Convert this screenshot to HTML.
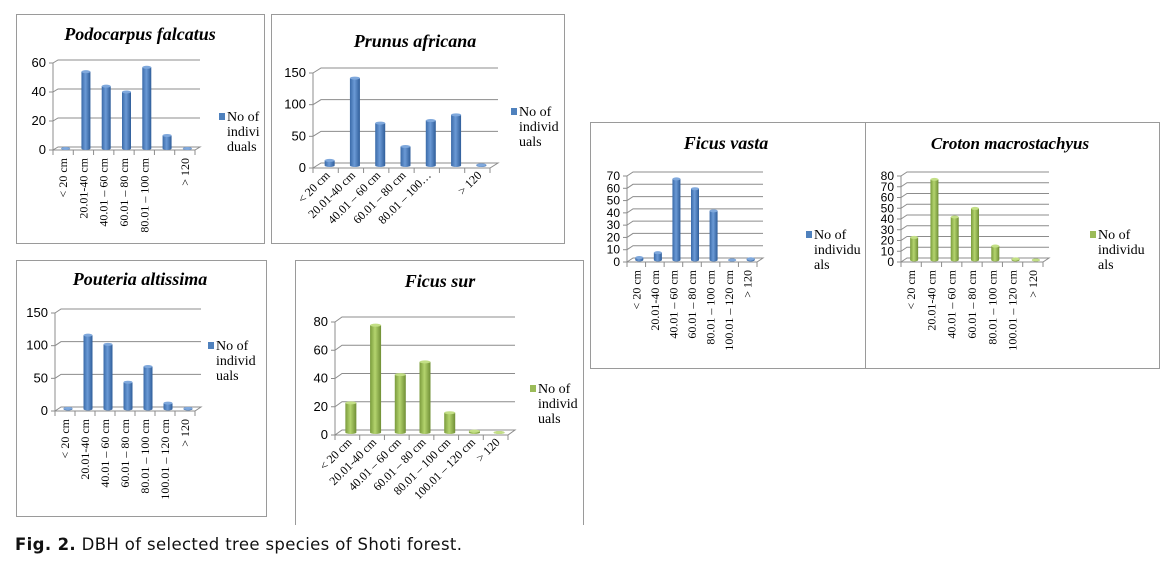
<!DOCTYPE html>
<html><head><meta charset="utf-8"><style>
html,body{margin:0;padding:0;background:#fff;width:1172px;height:572px;overflow:hidden}
svg{display:block}
</style></head><body>
<svg id="fig" width="1172" height="572" viewBox="0 0 1172 572" xmlns="http://www.w3.org/2000/svg">
<defs>
<linearGradient id="gBlue" x1="0" x2="1" y1="0" y2="0"><stop offset="0" stop-color="#3a6aa8"/><stop offset="0.45" stop-color="#6b9ad6"/><stop offset="1" stop-color="#2f5d99"/></linearGradient>
<linearGradient id="gGreen" x1="0" x2="1" y1="0" y2="0"><stop offset="0" stop-color="#7a9b3c"/><stop offset="0.45" stop-color="#b4d46e"/><stop offset="1" stop-color="#6f8e35"/></linearGradient>
</defs>
<g fill="none" stroke="#9a9a9a" stroke-width="1">
<rect x="16.5" y="14.5" width="248" height="229"/>
<rect x="271.5" y="14.5" width="293" height="229"/>
<rect x="16.5" y="260.5" width="250" height="256"/>
<path d="M295.5,525 V260.5 H583.5 V525"/>
<rect x="590.5" y="122.5" width="569" height="246"/>
<line x1="865.5" y1="122" x2="865.5" y2="368"/>
</g>
<text x="15" y="550" font-family="DejaVu Sans, sans-serif" font-size="16.5" fill="#111" textLength="447" lengthAdjust="spacing"><tspan font-weight="bold">Fig. 2.</tspan> DBH of selected tree species of Shoti forest.</text>
</svg>
<script>
const podoCats=["< 20 cm","20.01-40 cm","40.01 – 60 cm","60.01 – 80 cm","80.01 – 100 cm",""," > 120"];
const podoVals=[0,53,43,39,56,9,0];
const podoTicks=[0,20,40,60];
const prunCats=["< 20 cm","20.01-40 cm","40.01 – 60 cm","60.01 – 80 cm","80.01 – 100…","","> 120"];
const prunVals=[8,138,67,30,71,80,1];
const prunTicks=[0,50,100,150];
const poutCats=["< 20 cm","20.01-40 cm","40.01 – 60 cm","60.01 – 80 cm","80.01 – 100 cm","100.01 – 120 cm","> 120"];
const poutVals=[1,113,99,41,65,9,1];
const poutTicks=[0,50,100,150];
const surCats=["< 20 cm","20.01-40 cm","40.01 – 60 cm","60.01 – 80 cm","80.01 – 100 cm","100.01 – 120 cm","> 120"];
const surVals=[21,76,41,50,14,1,0];
const surTicks=[0,20,40,60,80];
const vastaCats=["< 20 cm","20.01-40 cm","40.01 – 60 cm","60.01 – 80 cm","80.01 – 100 cm","100.01 – 120 cm","> 120"];
const vastaVals=[2,6,66,58,40,0,1];
const vastaTicks=[0,10,20,30,40,50,60,70];
const crotCats=["< 20 cm","20.01-40 cm","40.01 – 60 cm","60.01 – 80 cm","80.01 – 100 cm","100.01 – 120 cm","> 120"];
const crotVals=[21,75,40,48,13,1,0];
const crotTicks=[0,10,20,30,40,50,60,70,80];

const NS="http://www.w3.org/2000/svg";
const svg=document.getElementById('fig');
function mk(tag,attrs,parent){const e=document.createElementNS(NS,tag);for(const k in attrs)e.setAttribute(k,attrs[k]);(parent||svg).appendChild(e);return e;}

function chart(id,title,cats,vals,ticks,c){
  const g=mk('g',{});
  
  
  const dx=c.dx||6,dy=c.dy||-4;
  const yMax=ticks[ticks.length-1];
  const yS=v=>c.y0-(v/yMax)*(c.y0-c.yTop);
  const n=cats.length, slot=(c.right-c.ax)/n;
  const t=mk('text',{x:c.tx,y:c.ty,'text-anchor':'middle','font-family':'Liberation Serif, serif','font-size':c.tfs||18,'font-weight':'bold','font-style':'italic',fill:'#000'},g);
  t.textContent=title;
  
  
  ticks.forEach(v=>{
    const y=yS(v);
    const gl=mk('path',{d:`M${c.ax},${y} L${c.ax+dx},${y+dy} L${c.right+dx},${y+dy}`+(v===0?` L${c.right},${y} Z`:''),fill:'none',stroke:'#8c8c8c','stroke-width':1},g);
    
    
    mk('line',{x1:c.ax-4,y1:y,x2:c.ax,y2:y,stroke:'#8c8c8c'},g);
    const tl=mk('text',{x:c.ax-7,y:y+4,'text-anchor':'end','font-family':'Liberation Sans, sans-serif','font-size':c.nfs||12,fill:'#000'},g);
    tl.textContent=v;
    
    
  });
  mk('line',{x1:c.ax,y1:c.y0,x2:c.ax,y2:yS(yMax),stroke:'#8c8c8c'},g);
  for(let i=0;i<=n;i++){const x=c.ax+i*slot;mk('line',{x1:x,y1:c.y0,x2:x,y2:c.y0+5,stroke:'#8c8c8c'},g);}
  const bw=c.bw||slot*0.5;
  vals.forEach((v,i)=>{
    const cx=c.ax+(i+0.5)*slot+dx/2, base=c.y0+dy/2, top=yS(v)+dy/2;
    const r=mk('rect',{x:cx-bw/2,y:top,width:bw,height:Math.max(0,base-top),fill:c.grad},g);
    
    
    mk('ellipse',{cx:cx,cy:base,rx:bw/2,ry:1.5,fill:c.grad},g);
    mk('ellipse',{cx:cx,cy:top,rx:bw/2,ry:1.5,fill:c.topc},g);
  });
  cats.forEach((lab,i)=>{
    if(!lab.trim())return;
    const cx=c.ax+(i+0.5)*slot, y=c.y0+8;
    const rot=c.rot;
    const xx=rot===-45?cx+5:cx+4;
    const tl=mk('text',{x:xx,y:y,'text-anchor':'end','font-family':'Liberation Serif, serif','font-size':c.lfs||12,fill:'#000',transform:`rotate(${rot} ${xx} ${y})`},g);
    tl.textContent=lab.trim();
    
    
  });
  const lg=mk('g',{},g);
  
  
  mk('rect',{x:c.lx,y:c.ly-8,width:6,height:7,fill:c.col},lg);
  c.lines.forEach((s,k)=>{const tt=mk('text',{x:c.lx+8,y:c.ly+k*15,'font-family':'Liberation Serif, serif','font-size':14,fill:'#000'},lg);tt.textContent=s;});
}

chart('podocarpus','Podocarpus falcatus',podoCats,podoVals,podoTicks,{ax:53,y0:150,yTop:63,right:195,dx:5,dy:-3,rot:-90,tx:140,ty:40,lx:219,ly:121,lines:['No of','indivi','duals'],grad:'url(#gBlue)',topc:'#7fa8dc',col:'#4f81bd',bw:9,nfs:13});
chart('prunus','Prunus africana',prunCats,prunVals,prunTicks,{ax:313,y0:168,yTop:73,right:490,dx:8,dy:-5,rot:-45,tx:415,ty:47,lx:511,ly:116,lines:['No of','individ','uals'],grad:'url(#gBlue)',topc:'#7fa8dc',col:'#4f81bd',bw:10,nfs:13});
chart('pouteria','Pouteria altissima',poutCats,poutVals,poutTicks,{ax:55,y0:411,yTop:313,right:195,dx:6,dy:-4,rot:-90,tx:140,ty:285,lx:208,ly:350,lines:['No of','individ','uals'],grad:'url(#gBlue)',topc:'#7fa8dc',col:'#4f81bd',bw:9,nfs:13});
chart('ficus-sur','Ficus sur',surCats,surVals,surTicks,{ax:335,y0:435,yTop:322,right:508,dx:7,dy:-5,rot:-45,tx:440,ty:287,lx:530,ly:393,lines:['No of','individ','uals'],grad:'url(#gGreen)',topc:'#c3df86',col:'#9bbb59',bw:11,nfs:13});
chart('ficus-vasta','Ficus vasta',vastaCats,vastaVals,vastaTicks,{ax:627,y0:262,yTop:176,right:757,dx:6,dy:-4,rot:-90,tx:726,ty:149,lx:806,ly:239,lines:['No of','individu','als'],grad:'url(#gBlue)',topc:'#7fa8dc',col:'#4f81bd',bw:8,nfs:12});
chart('croton','Croton macrostachyus',crotCats,crotVals,crotTicks,{ax:901,y0:262,yTop:176,right:1043,dx:6,dy:-4,rot:-90,tx:1010,ty:149,tfs:17,lx:1090,ly:239,lines:['No of','individu','als'],grad:'url(#gGreen)',topc:'#c3df86',col:'#9bbb59',bw:8,nfs:12});
</script>
</body></html>
